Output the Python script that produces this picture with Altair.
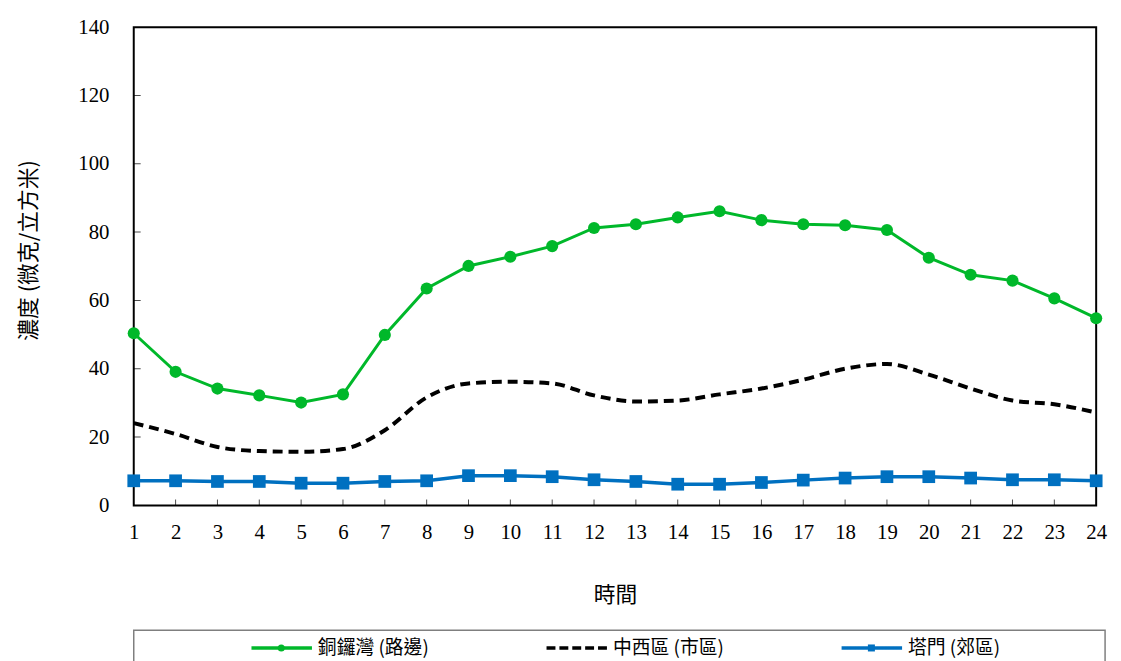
import altair as alt
import pandas as pd

hours = list(range(1, 25))
causeway_bay = [50.4, 39.1, 34.2, 32.2, 30.1, 32.5, 49.9, 63.5, 70.1, 72.8, 75.9, 81.2,
                82.3, 84.3, 86.1, 83.5, 82.3, 82.0, 80.6, 72.5, 67.5, 65.8, 60.6, 54.8]
central_western = [24.1, 20.9, 17.1, 15.9, 15.7, 16.5, 22.0, 31.6, 35.7, 36.2, 35.7, 32.2,
                   30.4, 30.7, 32.5, 34.2, 36.8, 40.0, 41.4, 38.3, 34.2, 30.7, 29.6, 27.2]
tap_mun = [7.2, 7.2, 7.0, 7.0, 6.5, 6.5, 7.0, 7.2, 8.7, 8.7, 8.4, 7.5,
           7.0, 6.2, 6.2, 6.7, 7.4, 8.0, 8.4, 8.4, 8.0, 7.5, 7.5, 7.2]
series_names = ["銅鑼灣 (路邊)", "中西區 (市區)", "塔門 (郊區)"]
y_ticks = [0, 20, 40, 60, 80, 100, 120, 140]

GREEN = "#00B82A"
BLUE = "#0070C0"
BLACK = "#000000"
CJK = "Noto Sans CJK TC"
SERIF = "Liberation Serif"

df_g = pd.DataFrame({"hour": hours, "value": causeway_bay})
df_k = pd.DataFrame({"hour": hours, "value": central_western})
df_b = pd.DataFrame({"hour": hours, "value": tap_mun})
df_xt = pd.DataFrame({"hour": hours[1:-1], "value": [0] * (len(hours) - 2)})
df_yt = pd.DataFrame({"hour": [hours[0]] * (len(y_ticks) - 2), "value": y_ticks[1:-1]})

x_enc = alt.X("hour:Q",
              scale=alt.Scale(domain=[hours[0], hours[-1]], nice=False, zero=False),
              axis=alt.Axis(values=hours, tickSize=0, domain=False, grid=False,
                            labelFont=SERIF, labelFontSize=21, labelColor="black",
                            labelPadding=16, labelFlush=False, labelOverlap=False,
                            title="時間", titleFont=CJK, titleFontSize=22,
                            titleFontWeight="normal", titleColor="black", titlePadding=43))
y_enc = alt.Y("value:Q",
              scale=alt.Scale(domain=[y_ticks[0], y_ticks[-1]], nice=False),
              axis=alt.Axis(values=y_ticks, tickSize=0, domain=False, grid=False,
                            labelFont=SERIF, labelFontSize=21, labelColor="black",
                            labelPadding=25, labelFlush=False,
                            title="濃度 (微克/立方米)", titleFont=CJK, titleFontSize=22,
                            titleFontWeight="normal", titleColor="black", titlePadding=38,
                            titleY=225))

g_line = alt.Chart(df_g).mark_line(color=GREEN, strokeWidth=3).encode(x=x_enc, y=y_enc)
g_pts = alt.Chart(df_g).mark_circle(color=GREEN, size=150, opacity=1).encode(x=x_enc, y=y_enc)
k_line = alt.Chart(df_k).mark_line(color=BLACK, strokeWidth=4, strokeDash=[10, 6],
                                   interpolate="monotone").encode(x=x_enc, y=y_enc)
b_line = alt.Chart(df_b).mark_line(color=BLUE, strokeWidth=3.5).encode(x=x_enc, y=y_enc)
b_pts = alt.Chart(df_b).mark_square(color=BLUE, size=165, opacity=1).encode(x=x_enc, y=y_enc)
x_ticks = alt.Chart(df_xt).mark_tick(orient="vertical", size=12, thickness=1, color="black",
                                     clip=True).encode(x=x_enc, y=y_enc)
y_ticks_m = alt.Chart(df_yt).mark_tick(orient="horizontal", size=14, thickness=1, color="black",
                                       clip=True).encode(x=x_enc, y=y_enc)

main = alt.layer(x_ticks, y_ticks_m, k_line, g_line, g_pts, b_line, b_pts).properties(
    width=972, height=483,
    view=alt.ViewBackground(stroke="black", strokeWidth=2),
)

# legend panel
df_leg = pd.DataFrame({"series": series_names})
band = alt.Scale(type="band", domain=series_names, paddingInner=0, paddingOuter=0.146)
LEG_Y = 18


def leg_layers(name, color, dash, shape):
    base = alt.Chart(df_leg).transform_filter(alt.datum.series == name)
    line = base.mark_rule(color=color, strokeWidth=3.5, strokeDash=dash).encode(
        x=alt.X("series:N", scale=band, axis=None, bandPosition=0.253),
        x2=alt.X2("series:N", bandPosition=0.458),
        y=alt.value(LEG_Y),
    )
    text = base.mark_text(align="left", baseline="middle", font=CJK, fontSize=19,
                          color="black").encode(
        x=alt.X("series:N", scale=band, axis=None, bandPosition=0.478),
        y=alt.value(LEG_Y),
        text="series:N",
    )
    layers = [line, text]
    if shape is not None:
        mk = base.mark_point(shape=shape, filled=True, color=color, size=50, opacity=1).encode(
            x=alt.X("series:N", scale=band, axis=None, bandPosition=0.354),
            y=alt.value(LEG_Y),
        )
        layers.append(mk)
    return layers


leg = alt.layer(
    *leg_layers(series_names[0], GREEN, [1, 0], "circle"),
    *leg_layers(series_names[1], BLACK, [9, 4], None),
    *leg_layers(series_names[2], BLUE, [1, 0], "square"),
).properties(
    width=981, height=40,
    view=alt.ViewBackground(stroke="#7f7f7f", strokeWidth=1.5),
)

chart = alt.vconcat(main, leg, spacing=23).configure(
    background="white",
    padding={"left": 8, "top": 4, "right": 5, "bottom": 5},
)

chart.save("out.html", embed_options={"renderer": "svg", "actions": False})
